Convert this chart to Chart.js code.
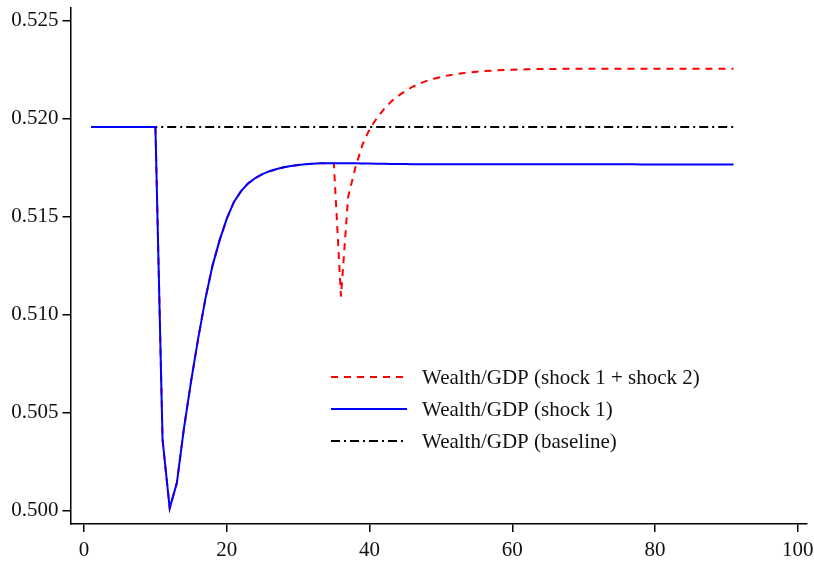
<!DOCTYPE html>
<html>
<head>
<meta charset="utf-8">
<script src="https://cdn.jsdelivr.net/npm/chart.js@4.4.1/dist/chart.umd.min.js"></script>
<style>
  html, body { margin: 0; padding: 0; background: #fff; }
  #wrap { position: relative; width: 814px; height: 562px; }
</style>
</head>
<body>
<div id="wrap"><canvas id="c" width="814" height="562"></canvas></div>
<script>
// ---- data ----
const periods = [1,2,3,4,5,6,7,8,9,10,11,12,13,14,15,16,17,18,19,20,21,22,23,24,25,26,27,28,29,30,
  31,32,33,34,35,36,37,38,39,40,41,42,43,44,45,46,47,48,49,50,51,52,53,54,55,56,57,58,59,60,
  61,62,63,64,65,66,67,68,69,70,71,72,73,74,75,76,77,78,79,80,81,82,83,84,85,86,87,88,89,90,91];

const shock1 = [0.51958,0.51958,0.51958,0.51958,0.51958,0.51958,0.51958,0.51958,0.51958,0.51958,
  0.50361,0.50012,0.50140,0.50420,0.50660,0.50880,0.51080,0.51250,0.51380,0.51490,
  0.51575,0.51630,0.51670,0.51697,0.51717,0.51732,0.51743,0.51752,0.51758,0.51763,
  0.51767,0.51770,0.51772,0.51773,0.51773,0.51773,0.51772,0.51772,0.51771,0.51771,
  0.51770,0.51770,0.51769,0.51769,0.51769,0.51768,0.51768,0.51768,0.51768,0.51767,
  0.51767,0.51767,0.51767,0.51767,0.51767,0.51767,0.51767,0.51767,0.51767,0.51767,
  0.51767,0.51767,0.51767,0.51767,0.51767,0.51767,0.51767,0.51767,0.51767,0.51767,
  0.51767,0.51767,0.51767,0.51767,0.51767,0.51767,0.51767,0.51766,0.51766,0.51766,
  0.51766,0.51766,0.51766,0.51766,0.51766,0.51766,0.51766,0.51766,0.51766,0.51766,0.51766];

const shock12 = [0.51958,0.51958,0.51958,0.51958,0.51958,0.51958,0.51958,0.51958,0.51958,0.51958,
  0.50361,0.50012,0.50140,0.50420,0.50660,0.50880,0.51080,0.51250,0.51380,0.51490,
  0.51575,0.51630,0.51670,0.51697,0.51717,0.51732,0.51743,0.51752,0.51758,0.51763,
  0.51767,0.51770,0.51772,0.51773,0.51773,0.51092,0.51600,0.51748,0.51866,0.51946,
  0.52001,0.52048,0.52086,0.52116,0.52141,0.52162,0.52179,0.52193,0.52204,0.52213,
  0.52221,0.52227,0.52232,0.52236,0.52240,0.52243,0.52245,0.52247,0.52249,0.52250,
  0.52251,0.52252,0.52253,0.52253,0.52254,0.52254,0.52255,0.52255,0.52255,0.52255,
  0.52255,0.52255,0.52255,0.52255,0.52255,0.52255,0.52255,0.52255,0.52255,0.52255,
  0.52255,0.52255,0.52255,0.52255,0.52255,0.52255,0.52255,0.52255,0.52255,0.52255,0.52255];

const baseline = [0.51958,0.51958,0.51958,0.51958,0.51958,0.51958,0.51958,0.51958,0.51958,0.51958,
  0.51958,0.51958,0.51958,0.51958,0.51958,0.51958,0.51958,0.51958,0.51958,0.51958,
  0.51958,0.51958,0.51958,0.51958,0.51958,0.51958,0.51958,0.51958,0.51958,0.51958,
  0.51958,0.51958,0.51958,0.51958,0.51958,0.51958,0.51958,0.51958,0.51958,0.51958,
  0.51958,0.51958,0.51958,0.51958,0.51958,0.51958,0.51958,0.51958,0.51958,0.51958,
  0.51958,0.51958,0.51958,0.51958,0.51958,0.51958,0.51958,0.51958,0.51958,0.51958,
  0.51958,0.51958,0.51958,0.51958,0.51958,0.51958,0.51958,0.51958,0.51958,0.51958,
  0.51958,0.51958,0.51958,0.51958,0.51958,0.51958,0.51958,0.51958,0.51958,0.51958,
  0.51958,0.51958,0.51958,0.51958,0.51958,0.51958,0.51958,0.51958,0.51958,0.51958,0.51958];

const xTicks = [0, 20, 40, 60, 80, 100];
const yTicks = [0.500, 0.505, 0.510, 0.515, 0.520, 0.525];
const seriesNames = ['Wealth/GDP (shock 1 + shock 2)', 'Wealth/GDP (shock 1)', 'Wealth/GDP (baseline)'];

// ---- styling ----
const FONT = '"Liberation Serif", "DejaVu Serif", serif';
const FS = 21;
const styles = [
  { color: '#ff0000', dash: [7, 6], width: 2 },
  { color: '#0000ff', dash: [], width: 2 },
  { color: '#000000', dash: [9, 4, 2, 4], width: 2 }
];

function pts(arr) { return periods.map((p, i) => ({ x: p, y: arr[i] })); }

const legendPlugin = {
  id: 'insideLegend',
  afterDraw(chart) {
    const ctx = chart.ctx;
    const rows = [377, 409, 441];
    ctx.save();
    ctx.font = FS + 'px ' + FONT;
    ctx.textBaseline = 'middle';
    ctx.textAlign = 'left';
    seriesNames.forEach((name, i) => {
      const s = styles[i];
      ctx.beginPath();
      ctx.strokeStyle = s.color;
      ctx.lineWidth = s.width;
      ctx.setLineDash(s.dash);
      ctx.moveTo(331, rows[i]);
      ctx.lineTo(407, rows[i]);
      ctx.stroke();
      ctx.setLineDash([]);
      ctx.fillStyle = '#111';
      ctx.fillText(name, 422, rows[i] + 1);
    });
    ctx.restore();
  }
};

new Chart(document.getElementById('c'), {
  type: 'line',
  data: {
    datasets: [
      { label: seriesNames[0], data: pts(shock12), borderColor: styles[0].color, borderDash: styles[0].dash, borderWidth: styles[0].width, order: 1 },
      { label: seriesNames[1], data: pts(shock1), borderColor: styles[1].color, borderDash: styles[1].dash, borderWidth: styles[1].width, order: 0 },
      { label: seriesNames[2], data: pts(baseline), borderColor: styles[2].color, borderDash: styles[2].dash, borderWidth: styles[2].width, order: 2 }
    ]
  },
  options: {
    responsive: false,
    animation: false,
    elements: { point: { radius: 0 }, line: { tension: 0, fill: false } },
    layout: { padding: { top: 8, right: 7, left: 0, bottom: 0 } },
    plugins: { legend: { display: false }, tooltip: { enabled: false } },
    scales: {
      x: {
        type: 'linear',
        min: -1.9,
        max: 101.3,
        afterBuildTicks: s => { s.ticks = xTicks.map(v => ({ value: v })); },
        afterFit: s => { s.height = 38; s.paddingLeft = 0; s.paddingRight = 0; },
        grid: { display: true, drawOnChartArea: false, tickLength: 8, color: '#000', lineWidth: 1.5 },
        border: { display: true, color: '#000', width: 1.5 },
        ticks: { color: '#111', font: { family: FONT, size: FS }, padding: 6, maxRotation: 0, callback: v => String(v) }
      },
      y: {
        type: 'linear',
        min: 0.49931,
        max: 0.52565,
        afterBuildTicks: s => { s.ticks = yTicks.map(v => ({ value: v })); },
        afterFit: s => { s.width = 70.5; s.paddingTop = 0; s.paddingBottom = 0; },
        grid: { display: true, drawOnChartArea: false, tickLength: 8, color: '#000', lineWidth: 1.5 },
        border: { display: true, color: '#000', width: 1.5 },
        ticks: { color: '#111', font: { family: FONT, size: FS }, padding: 4, callback: v => v.toFixed(3) }
      }
    }
  },
  plugins: [legendPlugin]
});
</script>
</body>
</html>
